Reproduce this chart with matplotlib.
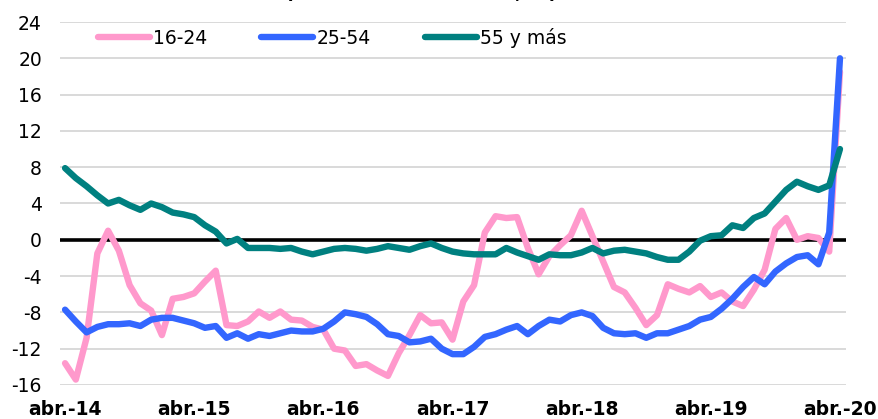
import matplotlib
matplotlib.use("Agg")
import matplotlib.pyplot as plt
import numpy as np

# ---- data (monthly, abr-2014 .. abr-2020) ----
tick_labels = ["abr.-14", "abr.-15", "abr.-16", "abr.-17", "abr.-18", "abr.-19", "abr.-20"]
series_names = ["16-24", "25-54", "55 y más"]

s_16_24 = [-13.6, -15.4, -10.8, -1.5, 1.0, -1.2, -5.0, -7.0, -7.8, -10.5, -6.5, -6.3,
           -5.9, -4.6, -3.4, -9.4, -9.5, -9.0, -7.9, -8.6, -7.9, -8.8, -8.9, -9.6,
           -9.9, -12.0, -12.2, -13.9, -13.7, -14.4, -15.0, -12.5, -10.5, -8.3, -9.2, -9.1,
           -11.0, -6.8, -5.0, 0.8, 2.6, 2.4, 2.5, -0.9, -3.8, -1.8, -0.6, 0.5,
           3.2, 0.4, -2.4, -5.2, -5.8, -7.5, -9.4, -8.3, -4.9, -5.4, -5.8, -5.1,
           -6.3, -5.8, -6.8, -7.3, -5.5, -3.3, 1.2, 2.4, 0.0, 0.4, 0.2, -1.3,
           18.5]

s_25_54 = [-7.7, -9.0, -10.2, -9.6, -9.3, -9.3, -9.2, -9.5, -8.8, -8.6, -8.6, -8.9,
           -9.2, -9.7, -9.5, -10.8, -10.3, -10.9, -10.4, -10.6, -10.3, -10.0, -10.1, -10.1,
           -9.8, -9.0, -8.0, -8.2, -8.5, -9.3, -10.4, -10.6, -11.3, -11.2, -10.9, -12.0,
           -12.6, -12.6, -11.8, -10.7, -10.4, -9.9, -9.5, -10.4, -9.5, -8.8, -9.0, -8.3,
           -8.0, -8.4, -9.7, -10.3, -10.4, -10.3, -10.8, -10.3, -10.3, -9.9, -9.5, -8.8,
           -8.5, -7.6, -6.5, -5.2, -4.1, -4.9, -3.5, -2.6, -1.9, -1.7, -2.7, 0.8,
           20.0]

s_55_mas = [7.9, 6.8, 5.9, 4.9, 4.0, 4.4, 3.8, 3.3, 4.0, 3.6, 3.0, 2.8,
            2.5, 1.6, 0.9, -0.4, 0.1, -0.9, -0.9, -0.9, -1.0, -0.9, -1.3, -1.6,
            -1.3, -1.0, -0.9, -1.0, -1.2, -1.0, -0.7, -0.9, -1.1, -0.7, -0.4, -0.9,
            -1.3, -1.5, -1.6, -1.6, -1.6, -0.9, -1.4, -1.8, -2.2, -1.6, -1.7, -1.7,
            -1.4, -0.9, -1.5, -1.2, -1.1, -1.3, -1.5, -1.9, -2.2, -2.2, -1.3, -0.1,
            0.4, 0.5, 1.6, 1.3, 2.4, 2.9, 4.2, 5.5, 6.4, 5.9, 5.5, 6.0,
            10.0]

y_ticks = [-16, -12, -8, -4, 0, 4, 8, 12, 16, 20, 24]
title_text = "(variación interanual, %)"

colors = ["#FF99CC", "#3366FF", "#008080"]

# ---- figure ----
W, H = 879, 419
fig = plt.figure(figsize=(W / 100, H / 100), dpi=100)
ax = fig.add_axes([60 / W, 1 - 385 / H, (846 - 60) / W, (385 - 22) / H])

x = np.arange(len(s_16_24))

ax.set_ylim(-16, 24)
ax.set_xlim(-0.47, len(x) - 1 + 0.56)
ax.set_yticks(y_ticks)
ax.set_yticklabels([str(v) for v in y_ticks])
ax.set_xticks(np.arange(0, len(x), 12))
ax.set_xticklabels(tick_labels, fontweight="bold")
ax.grid(axis="y", color="#d9d9d9", linewidth=1.4)
ax.set_axisbelow(True)
for sp in ax.spines.values():
    sp.set_visible(False)
ax.tick_params(axis="both", length=0, labelsize=13.5, colors="black")
ax.tick_params(axis="y", pad=13)
ax.tick_params(axis="x", pad=11)

ax.axhline(0, color="black", linewidth=2.6, zorder=2)

for vals, name, c in zip([s_16_24, s_25_54, s_55_mas], series_names, colors):
    ax.plot(x, vals, color=c, linewidth=4.6, label=name, zorder=3,
            solid_capstyle="round", solid_joinstyle="round")

leg = ax.legend(loc="center left", bbox_to_anchor=(98 / W, 1 - 37.5 / H),
                bbox_transform=fig.transFigure, ncol=3, frameon=False,
                fontsize=13.5, handlelength=2.77, handletextpad=0.15,
                columnspacing=2.9, borderpad=0, borderaxespad=0)

# title mostly cropped above the image, as in the reference
fig.text(0.479, 1 + 2.0 / H, title_text, ha="center", va="baseline",
         fontsize=14, fontweight="bold")

fig.savefig("out.png", dpi=100)
